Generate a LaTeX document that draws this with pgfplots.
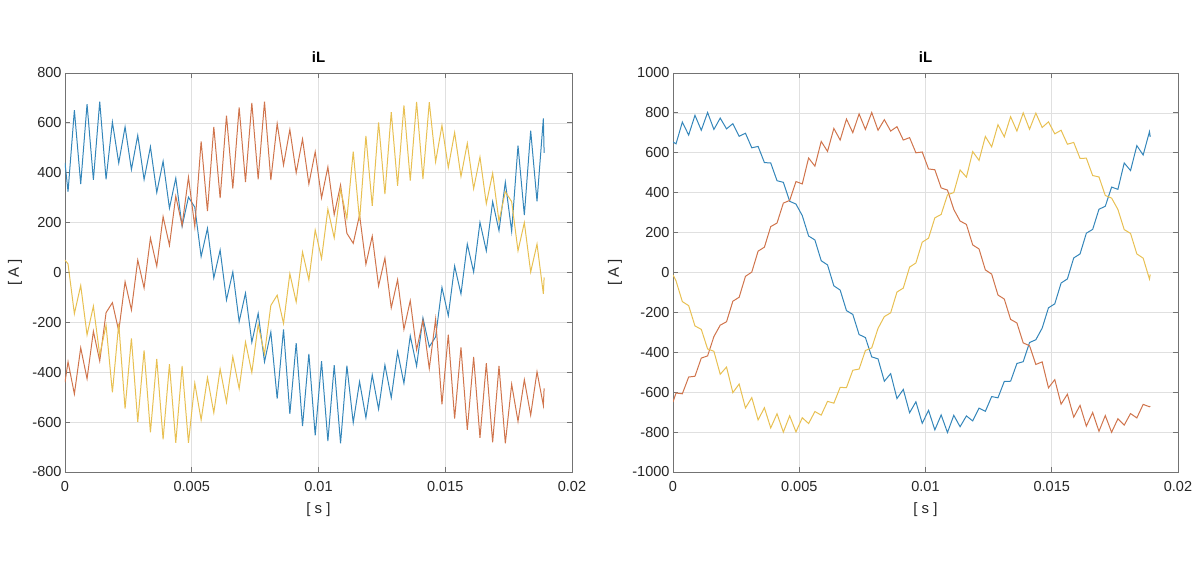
\documentclass[border=0pt]{standalone}
\usepackage{fontspec}
\setmainfont{Liberation Sans}
\usepackage{pgfplots}
\usepackage{pgfplotstable}
\pgfplotsset{compat=1.18}
\definecolor{mblue}{RGB}{52,134,186}
\definecolor{morange}{RGB}{208,116,76}
\definecolor{myellow}{RGB}{232,192,82}

\pgfplotstableread{
t BL RL YL BR RR YR
0 440 -440 50 654 -649 -12
0.00012 324 -358 34 645 -604 -42
0.00037 651 -487 -165 754 -608 -146
0.00062 355 -302 -52 689 -524 -166
0.00087 675 -426 -250 788 -520 -268
0.00112 372 -236 -135 713 -429 -285
0.00137 685 -355 -331 802 -418 -383
0.00162 374 -161 -212 717 -321 -395
0.00187 603 -121 -481 774 -264 -510
0.00212 439 -235 -205 720 -247 -474
0.00237 584 -37 -546 746 -144 -602
0.00262 413 -150 -264 683 -124 -559
0.00287 550 50 -599 698 -19 -679
0.00312 373 -62 -312 625 2 -627
0.00337 504 138 -641 632 107 -739
0.00362 321 25 -347 551 127 -678
0.00387 446 224 -669 549 230 -779
0.00412 258 109 -368 460 248 -708
0.00437 378 306 -683 452 348 -800
0.00462 185 189 -375 357 361 -718
0.00487 302 382 -683 343 456 -799
0.00512 262 184 -444 285 444 -728
0.00537 64 526 -591 183 574 -757
0.00562 177 246 -422 163 533 -697
0.00587 -22 584 -562 59 657 -715
0.00612 90 298 -387 38 607 -646
0.00637 -110 629 -520 -67 722 -655
0.00662 2 337 -338 -88 664 -576
0.00687 -197 662 -466 -191 769 -577
0.00712 -83 363 -279 -210 701 -490
0.00737 -280 680 -401 -311 795 -484
0.00762 -164 374 -209 -326 717 -391
0.00787 -358 685 -327 -423 802 -378
0.00812 -239 371 -132 -433 713 -280
0.00837 -506 597 -91 -545 766 -221
0.00862 -228 431 -204 -507 709 -202
0.00887 -567 573 -5 -632 731 -98
0.00912 -283 400 -118 -586 664 -78
0.00937 -616 535 82 -703 676 27
0.00962 -326 355 -30 -648 600 48
0.00987 -653 484 170 -756 604 152
0.01012 -356 299 56 -691 519 172
0.01037 -676 423 254 -789 515 274
0.01062 -372 232 139 -714 424 291
0.01087 -685 351 334 -802 413 389
0.01112 -374 157 216 -716 316 401
0.01137 -602 117 485 -773 258 514
0.01162 -438 231 208 -719 241 478
0.01187 -582 33 548 -744 138 606
0.01212 -411 146 267 -680 118 562
0.01237 -548 -54 602 -696 13 682
0.01262 -371 58 314 -622 -8 630
0.01287 -502 -142 643 -628 -113 741
0.01312 -318 -29 348 -546 -133 680
0.01337 -444 -228 670 -545 -235 781
0.01362 -254 -113 369 -456 -253 709
0.01387 -375 -310 684 -447 -353 800
0.01412 -182 -192 375 -351 -367 718
0.01437 -298 -385 683 -337 -461 799
0.01462 -258 -187 444 -279 -448 727
0.01487 -60 -529 590 -177 -578 755
0.01512 -173 -249 421 -157 -537 695
0.01537 26 -586 561 -53 -660 713
0.01562 -86 -300 385 -32 -610 643
0.01587 114 -631 518 73 -725 652
0.01612 2 -339 336 93 -666 572
0.01637 201 -663 463 197 -770 573
0.01662 87 -364 276 216 -702 486
0.01687 284 -681 398 317 -796 479
0.01712 168 -375 206 332 -717 386
0.01737 362 -685 324 428 -801 373
0.01762 165 -448 284 417 -733 316
0.01787 509 -597 87 549 -765 215
0.01812 230 -430 200 511 -707 196
0.01837 569 -572 2 636 -729 93
0.01862 285 -398 114 589 -661 72
0.01887 618 -533 -86 706 -673 -33
0.0189 480 -465 -20 680 -670 -10
}\data

\pgfplotsset{mstyle/.style={
  scale only axis,
  height=399pt,
  xmin=0, xmax=0.02,
  xtick={0,0.005,0.01,0.015,0.02},
  xticklabels={0,0.005,0.01,0.015,0.02},
  scaled x ticks=false, scaled y ticks=false,
  grid=major,
  major grid style={draw=black!12, line width=0.7pt},
  axis line style={draw=black!55, line width=0.8pt},
  tick style={draw=black!55, line width=0.8pt},
  tick align=inside, tick pos=both, major tick length=5pt,
  ticklabel style={font=\fontsize{14.5}{17}\selectfont, text=black!85},
  xticklabel style={yshift=-6pt},
  /pgf/number format/assume math mode=true,
  title={iL},
  title style={at={(axis description cs:0.5,1.0113)}, anchor=base, font=\bfseries\fontsize{15}{18}\selectfont, text=black},
  xlabel={[ s ]},
  xlabel style={at={(axis description cs:0.5,-0.0952)}, anchor=center, font=\fontsize{15}{18}\selectfont, text=black!85},
  ylabel={[ A ]},
  ylabel style={anchor=center, font=\fontsize{15}{18}\selectfont, text=black!85},
  every axis plot/.append style={line width=1pt, mark=none},
}}

\begin{document}
\begin{tikzpicture}
\path[use as bounding box] (0,0) rectangle (1200pt,563pt);
\begin{axis}[mstyle, at={(65pt,91pt)}, anchor=south west, width=507pt,
  ymin=-800, ymax=800, ytick={-800,-600,-400,-200,0,200,400,600,800},
  yticklabels={-800,-600,-400,-200,0,200,400,600,800},
  ylabel style={at={(axis description cs:-0.0986,0.5)}}]
\addplot[mblue] table[x=t,y=BL]{\data};
\addplot[morange] table[x=t,y=RL]{\data};
\addplot[myellow] table[x=t,y=YL]{\data};
\end{axis}
\begin{axis}[mstyle, at={(673pt,91pt)}, anchor=south west, width=505pt,
  ymin=-1000, ymax=1000, ytick={-1000,-800,-600,-400,-200,0,200,400,600,800,1000},
  yticklabels={-1000,-800,-600,-400,-200,0,200,400,600,800,1000},
  ylabel style={at={(axis description cs:-0.1149,0.5)}}]
\addplot[mblue] table[x=t,y=BR]{\data};
\addplot[morange] table[x=t,y=RR]{\data};
\addplot[myellow] table[x=t,y=YR]{\data};
\end{axis}
\end{tikzpicture}
\end{document}
